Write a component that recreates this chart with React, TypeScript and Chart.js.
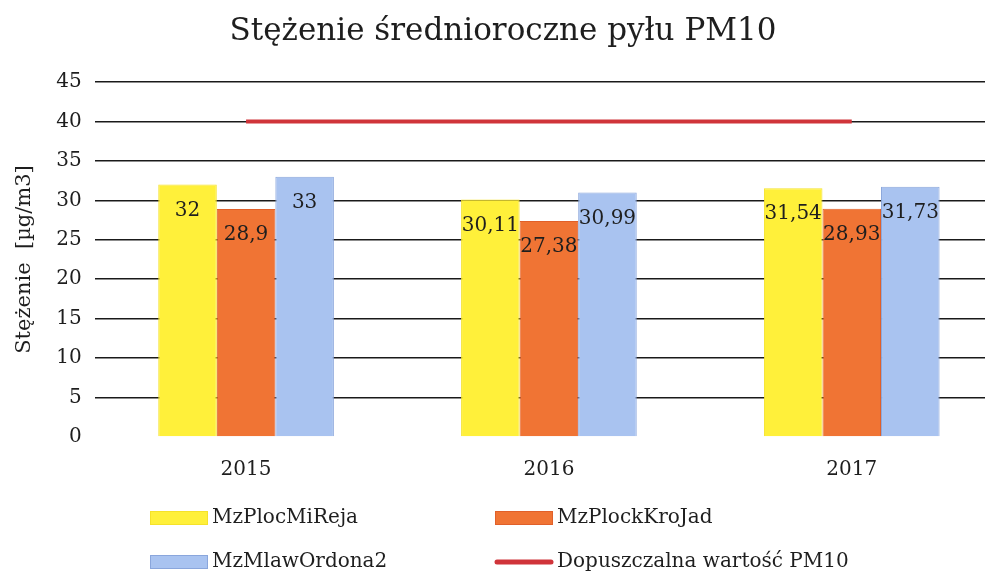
import React, { useEffect, useRef } from "react";
import { Chart, registerables } from "chart.js";

Chart.register(...registerables);

const chartTitle = "Stężenie średnioroczne pyłu PM10";
const yAxisTitle = "Stężenie  [µg/m3]";
const categories = ["2015", "2016", "2017"];
const seriesNames = ["MzPlocMiReja", "MzPlockKroJad", "MzMlawOrdona2"];
const plocMiReja = [32, 30.11, 31.54];
const plockKroJad = [28.9, 27.38, 28.93];
const mlawOrdona2 = [33, 30.99, 31.73];
const limitName = "Dopuszczalna wartość PM10";
const limitValues = [40, 40, 40];
const yTicks = [0, 5, 10, 15, 20, 25, 30, 35, 40, 45];

const FONT = "'DejaVu Serif', serif";

const fmt = (v: number) => String(v).replace(".", ",");

export default function App() {
  const ref = useRef<HTMLCanvasElement | null>(null);

  useEffect(() => {
    if (!ref.current) return;
    const toXY = (arr: number[]) => arr.map((y, i) => ({ x: i, y }));

    const labelPlugin = {
      id: "barLabels",
      afterDatasetsDraw(chart: any) {
        const ctx = chart.ctx;
        ctx.save();
        ctx.font = `20px ${FONT}`;
        ctx.fillStyle = "#1e1e1e";
        ctx.textAlign = "center";
        ctx.textBaseline = "middle";
        chart.data.datasets.forEach((ds: any, di: number) => {
          if (ds.type === "line") return;
          const meta = chart.getDatasetMeta(di);
          meta.data.forEach((el: any, i: number) => {
            ctx.fillText(fmt(ds.data[i].y), el.x, el.y + 26);
          });
        });
        ctx.restore();
      },
    };

    const decoPlugin = {
      id: "deco",
      afterDraw(chart: any) {
        const ctx = chart.ctx;
        ctx.save();
        ctx.fillStyle = "#1e1e1e";
        ctx.font = `31px ${FONT}`;
        ctx.textAlign = "center";
        ctx.textBaseline = "middle";
        ctx.fillText(chartTitle, 503, 32);
        // legend
        const cols = [150, 495];
        const rows = [518, 562];
        ctx.font = `20px ${FONT}`;
        ctx.textAlign = "left";
        chart.data.datasets.forEach((ds: any, i: number) => {
          const x = cols[i % 2];
          const y = rows[Math.floor(i / 2)];
          if (ds.type === "line") {
            ctx.strokeStyle = ds.borderColor;
            ctx.lineWidth = 5;
            ctx.lineCap = "round";
            ctx.beginPath();
            ctx.moveTo(x + 2, y);
            ctx.lineTo(x + 56, y);
            ctx.stroke();
          } else {
            ctx.fillStyle = ds.backgroundColor;
            ctx.fillRect(x, y - 7, 58, 14);
            ctx.strokeStyle = ds.borderColor;
            ctx.lineWidth = 1;
            ctx.strokeRect(x + 0.5, y - 6.5, 57, 13);
          }
          ctx.fillStyle = "#1e1e1e";
          ctx.fillText(ds.label, x + 62, y);
        });
        ctx.restore();
      },
    };

    const chart = new Chart(ref.current, {
      type: "bar",
      data: {
        datasets: [
          {
            type: "bar",
            label: seriesNames[0],
            data: toXY(plocMiReja),
            backgroundColor: "#FFF03A",
            borderColor: "#F5E22A",
            borderWidth: 1,
            order: 2,
          },
          {
            type: "bar",
            label: seriesNames[1],
            data: toXY(plockKroJad),
            backgroundColor: "#F07434",
            borderColor: "#E0602A",
            borderWidth: 1,
            order: 2,
          },
          {
            type: "bar",
            label: seriesNames[2],
            data: toXY(mlawOrdona2),
            backgroundColor: "#A9C3F0",
            borderColor: "#8AA6DC",
            borderWidth: 1,
            order: 2,
          },
          {
            type: "line",
            label: limitName,
            data: toXY(limitValues),
            borderColor: "#D0343A",
            backgroundColor: "#D0343A",
            borderWidth: 4,
            pointRadius: 0,
            fill: false,
            order: 1,
          } as any,
        ],
      },
      options: {
        animation: false,
        responsive: false,
        maintainAspectRatio: false,
        layout: { padding: { left: 0, right: 11, top: 82, bottom: 80 } },
        datasets: {
          bar: { categoryPercentage: 0.58, barPercentage: 1 },
        } as any,
        plugins: {
          legend: { display: false },
          title: { display: false },
          tooltip: { enabled: false },
        },
        scales: {
          x: {
            type: "linear",
            min: -0.5,
            max: 2.44,
            offset: false,
            grid: { display: false },
            border: { display: false },
            afterBuildTicks: (scale: any) => {
              scale.ticks = categories.map((_, i) => ({ value: i }));
            },
            ticks: {
              autoSkip: false,
              maxRotation: 0,
              padding: 13,
              color: "#1e1e1e",
              font: { family: FONT, size: 20 },
              callback: (v: any) => categories[Number(v)] ?? "",
            },
          },
          y: {
            min: 0,
            max: 45,
            afterBuildTicks: (scale: any) => {
              scale.ticks = yTicks.map((v) => ({ value: v }));
            },
            grid: {
              drawTicks: false,
              color: (c: any) => (c.tick && c.tick.value === 0 ? "rgba(0,0,0,0)" : "#1a1a1a"),
              lineWidth: 1.5,
            },
            border: { display: false },
            ticks: {
              padding: 13,
              color: "#1e1e1e",
              font: { family: FONT, size: 20 },
            },
            title: {
              display: true,
              text: yAxisTitle,
              color: "#1e1e1e",
              font: { family: FONT, size: 21 },
              padding: { top: 12, bottom: 6 },
            },
          },
        },
      },
      plugins: [labelPlugin, decoPlugin],
    } as any);

    return () => chart.destroy();
  }, []);

  return (
    <div style={{ position: "fixed", left: 0, top: 0, width: 996, height: 575, background: "#fff" }}>
      <canvas ref={ref} width={996} height={575} style={{ display: "block", width: 996, height: 575 }} />
    </div>
  );
}
